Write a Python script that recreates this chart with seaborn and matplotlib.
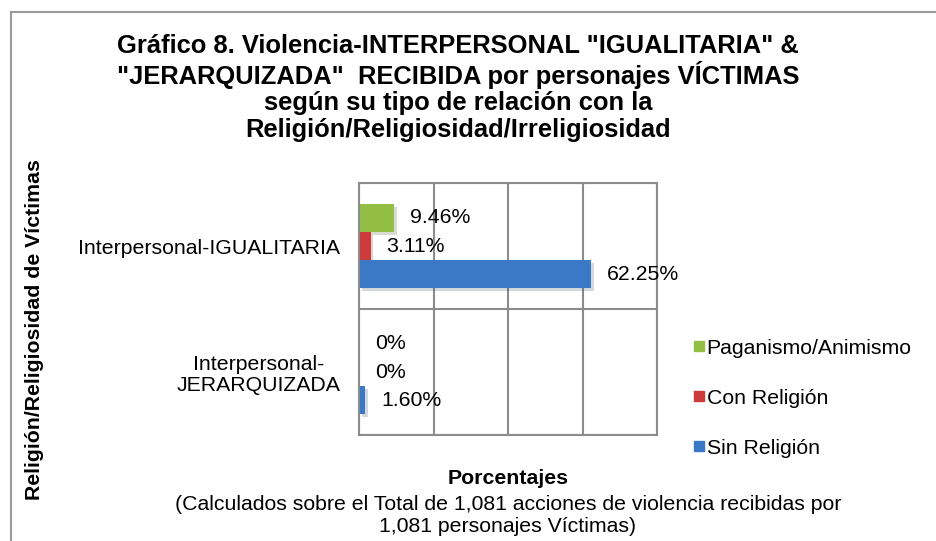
import pandas as pd
import numpy as np
import matplotlib.pyplot as plt
import matplotlib.patheffects as pe
from matplotlib.patches import Rectangle
from matplotlib.lines import Line2D
import seaborn as sns

# datos
categorias = ['Interpersonal-IGUALITARIA', 'Interpersonal-\nJERARQUIZADA']
series = ['Paganismo/Animismo', 'Con Religión', 'Sin Religión']
paganismo = [9.46, 0.0]
con_religion = [3.11, 0.0]
sin_religion = [62.25, 1.60]
colores = ['#93BE45', '#CC3A3A', '#3B78C6']

df = pd.DataFrame({
    'categoria': categorias * 3,
    'serie': [s for s in series for _ in categorias],
    'valor': paganismo + con_religion + sin_religion,
})

sns.set_style('white')
plt.rcParams['font.family'] = ['Liberation Sans', 'DejaVu Sans']
plt.rcParams['text.color'] = 'black'
plt.rcParams['ytick.color'] = 'black'

fs = 15.3

fig = plt.figure(figsize=(9.36, 5.41), dpi=100)
ax = fig.add_axes([359/936, 1-435/541, (657-359)/936, (435-183)/541])

sns.barplot(data=df, x='valor', y='categoria', hue='serie', hue_order=series,
            palette=colores, orient='h', width=0.67, gap=0, legend=False,
            saturation=1, linewidth=0, ax=ax)

gris = '#8C8C8C'
ax.set_xlim(0, 80)
ax.set_ylim(1.5, -0.5)
ax.set_xticks([0, 20, 40, 60, 80])
ax.set_xticklabels([])
ax.tick_params(axis='x', length=0)
ax.grid(axis='x', color=gris, lw=1.5)
ax.set_yticks([-0.5, 0.5, 1.5], minor=True)
ax.grid(axis='y', which='minor', color=gris, lw=1.5)
ax.tick_params(axis='y', which='minor', length=8, width=1.5, color=gris)
ax.tick_params(axis='y', which='major', length=0, pad=13.5, labelsize=fs)
for lab in ax.get_yticklabels():
    lab.set_horizontalalignment('right')
    lab.set_multialignment('center')
    lab.set_linespacing(1.15)
for s in ax.spines.values():
    s.set_color(gris)
    s.set_linewidth(1.5)
ax.set_axisbelow(True)
ax.set_xlabel('')
ax.set_ylabel('')

for cont in ax.containers:
    for bar in cont:
        bar.set_path_effects([pe.SimplePatchShadow(offset=(2, -2), alpha=0.18), pe.Normal()])
    etiquetas = ['0%' if b.get_width() == 0 else f'{b.get_width():.2f}%' for b in cont]
    ax.bar_label(cont, labels=etiquetas, padding=11.5, fontsize=fs)

fig.text(458/936, 1-88/541,
         'Gráfico 8. Violencia-INTERPERSONAL "IGUALITARIA" &\n'
         '"JERARQUIZADA"  RECIBIDA por personajes VÍCTIMAS\n'
         'según su tipo de relación con la\n'
         'Religión/Religiosidad/Irreligiosidad',
         ha='center', va='center', fontsize=18.4, fontweight='bold', linespacing=1.12)

fig.text(35/936, 1-330/541, 'Religión/Religiosidad de Víctimas', rotation=90,
         ha='center', va='center', fontsize=fs, fontweight='bold')

fig.text(508/936, 1-478/541, 'Porcentajes', ha='center', va='center',
         fontsize=fs, fontweight='bold')
fig.text(508/936, 1-515/541,
         '(Calculados sobre el Total de 1,081 acciones de violencia recibidas por\n'
         '1,081 personajes Víctimas)',
         ha='center', va='center', fontsize=fs, linespacing=1.2)

handles = [Line2D([], [], marker='s', ls='', color=c, markersize=7) for c in colores]
fig.legend(handles, series, loc='upper left', bbox_to_anchor=(680/936, 1-330/541),
           frameon=False, fontsize=fs, labelspacing=1.46, handletextpad=-0.15,
           handlelength=1.0, borderaxespad=0)

fig.add_artist(Rectangle((11/936, -0.05), 1.1, 1.05-12/541, transform=fig.transFigure,
                         fill=False, edgecolor='#9A9A9A', lw=1.5))

fig.savefig('out.png', dpi=100)
